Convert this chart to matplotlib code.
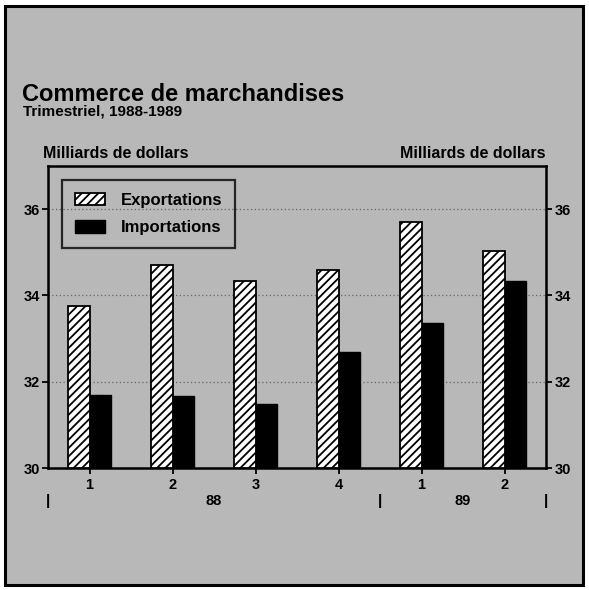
import matplotlib
matplotlib.use("Agg")
import matplotlib.pyplot as plt
from matplotlib.patches import Rectangle, Patch
import numpy as np

# ---- data ----
quarters = ["1", "2", "3", "4", "1", "2"]
years = ["88", "89"]
year_spans = [(0, 3), (4, 5)]
exportations = [33.75, 34.70, 34.33, 34.58, 35.70, 35.03]
importations = [31.70, 31.67, 31.49, 32.69, 33.36, 34.33]
y_ticks = [30, 32, 34, 36]

plt.rcParams['font.family'] = ['Liberation Sans', 'DejaVu Sans']
plt.rcParams['hatch.linewidth'] = 1.3

W, H = 589, 590
fig = plt.figure(figsize=(W / 100, H / 100), dpi=100, facecolor='white')

bg_col = '#b8b8b8'
# outer frame
fig.patches.append(Rectangle((5 / W, 1 - 585 / H), 578 / W, 579 / H,
                             transform=fig.transFigure, facecolor=bg_col,
                             edgecolor='black', linewidth=2.2, zorder=-5))

ax = fig.add_axes([48 / W, 1 - 468 / H, 498 / W, 302 / H])
ax.set_facecolor('none')

x = np.arange(len(quarters))
bw = 0.255
ax.bar(x, np.array(exportations) - 30, bottom=30, width=-bw, align='edge',
       facecolor='white', edgecolor='black', hatch='////', linewidth=1.3,
       zorder=3, label='Exportations')
ax.bar(x, np.array(importations) - 30, bottom=30, width=bw, align='edge',
       facecolor='black', edgecolor='black', linewidth=1.0, zorder=3,
       label='Importations')

ax.set_xlim(-0.5, 5.5)
ax.set_ylim(30, 37)

for yv in y_ticks[1:]:
    ax.axhline(yv, color='#666666', linewidth=0.9, linestyle=(0, (1, 2)), zorder=1)

for s in ax.spines.values():
    s.set_linewidth(1.8)

ax.set_yticks(y_ticks)
ax.set_yticklabels([str(v) for v in y_ticks], fontsize=10.5, fontweight='bold')
ax.tick_params(axis='y', which='both', direction='out', length=4, width=1.3,
               pad=2, left=True, right=True, labelleft=True, labelright=True)
ax.set_xticks(x)
ax.set_xticklabels(quarters, fontsize=10.5, fontweight='bold')
ax.tick_params(axis='x', direction='out', length=4, width=1.3, pad=3)

# year labels and separators
for (a, b), yr in zip(year_spans, years):
    ax.text((a + b) / 2, -0.11, yr, transform=ax.get_xaxis_transform(),
            ha='center', va='center', fontsize=10.5, fontweight='bold')
for sep in [-0.5, 3.5, 5.5]:
    ax.text(sep, -0.11, '|', transform=ax.get_xaxis_transform(),
            ha='center', va='center', fontsize=11, fontweight='bold')

# axis unit labels
fig.text(43 / W, 1 - 158 / H, 'Milliards de dollars', fontsize=11.5,
         fontweight='bold', ha='left', va='baseline')
fig.text(546 / W, 1 - 158 / H, 'Milliards de dollars', fontsize=11.5,
         fontweight='bold', ha='right', va='baseline')

# title
fig.text(22 / W, 1 - 101 / H, 'Commerce de marchandises', fontsize=17,
         fontweight='bold', ha='left', va='baseline')
fig.text(23 / W, 1 - 116 / H, 'Trimestriel, 1988-1989', fontsize=11,
         fontweight='bold', ha='left', va='baseline')

handles = [Patch(facecolor='white', edgecolor='black', hatch='////', linewidth=1.3),
           Patch(facecolor='black', edgecolor='black')]
leg = ax.legend(handles, ['Exportations', 'Importations'], loc='upper left',
                bbox_to_anchor=(14 / 498, 1 - 14 / 302), frameon=True,
                prop={'weight': 'bold', 'size': 12}, handlelength=1.8,
                handleheight=0.8, labelspacing=0.75, handletextpad=1.0,
                borderpad=0.75, borderaxespad=0, fancybox=False)
leg.get_frame().set_edgecolor('black')
leg.get_frame().set_linewidth(1.6)
leg.get_frame().set_facecolor('none')

fig.savefig('out.png', dpi=100, facecolor='white')
